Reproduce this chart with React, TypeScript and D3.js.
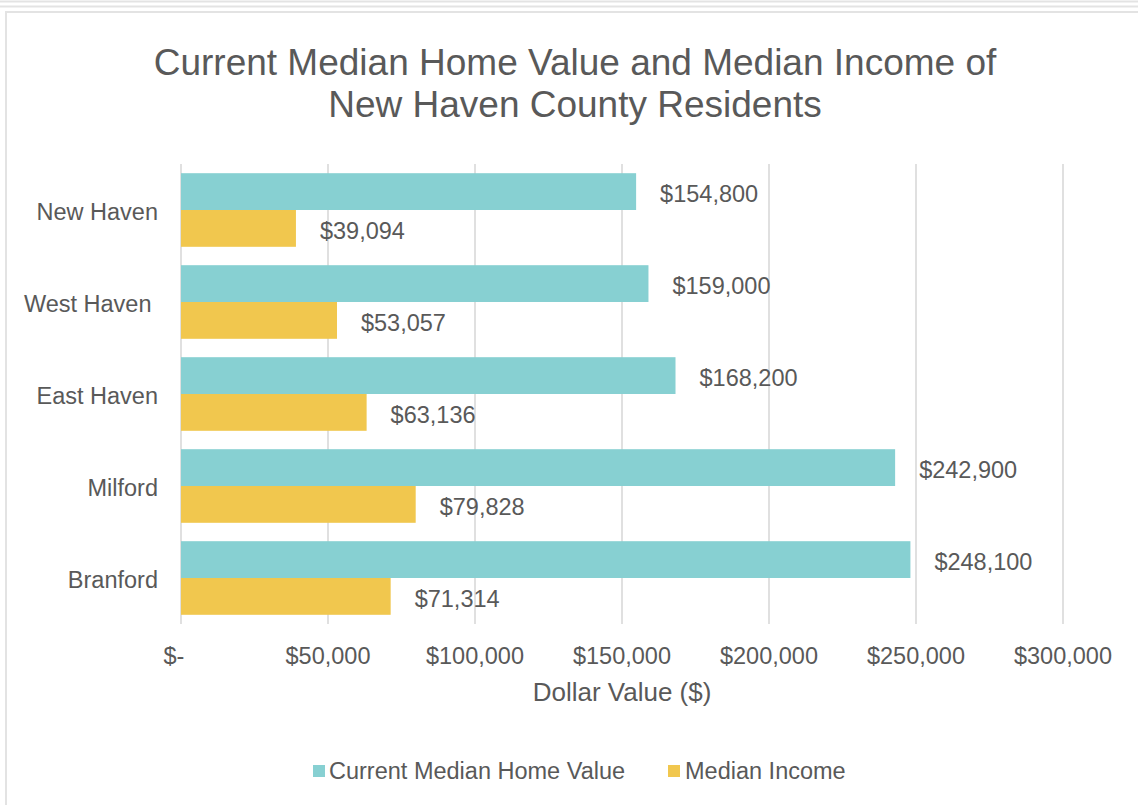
import React from "react";
import * as d3 from "d3";

const categories = ["New Haven", "West Haven ", "East Haven", "Milford", "Branford"];
const homeValues = [154800, 159000, 168200, 242900, 248100];
const incomes = [39094, 53057, 63136, 79828, 71314];
const xTicks = [0, 50000, 100000, 150000, 200000, 250000, 300000];
const seriesNames = ["Current Median Home Value", "Median Income"];
const seriesColors = ["#87D0D2", "#F1C74E"];

const W = 1138;
const H = 805;
const FONT = "'Liberation Sans', Arial, Helvetica, sans-serif";
const TEXT = "#595959";
const FS = 23.5;

export default function App() {
  const x = d3.scaleLinear().domain([0, 300000]).range([181, 1063]);
  const y = d3.scaleBand().domain(categories).range([164, 624]).paddingInner(0.2).paddingOuter(0.1);
  const sub = d3.scaleBand().domain(["0", "1"]).range([0, y.bandwidth()]);
  const fmt = d3.format("$,");
  const tickFmt = (v: number) => (v === 0 ? "$-" : fmt(v));
  const series = [homeValues, incomes];

  return (
    <svg width={W} height={H} style={{ position: "absolute", left: 0, top: 0, background: "#fff" }}>
      <rect x={0} y={0} width={W} height={H} fill="#fff" />
      <line x1={0} x2={W} y1={1.5} y2={1.5} stroke="#e3e3e3" strokeWidth={2} />
      <line x1={0} x2={W} y1={6.5} y2={6.5} stroke="#e3e3e3" strokeWidth={2} />
      <rect x={6} y={12} width={W} height={H} fill="none" stroke="#e3e3e3" strokeWidth={2} />

      <text x={575} y={75} textAnchor="middle" fontFamily={FONT} fontSize={37} fill={TEXT}>
        Current Median Home Value and Median Income of
      </text>
      <text x={575} y={117} textAnchor="middle" fontFamily={FONT} fontSize={37} fill={TEXT}>
        New Haven County Residents
      </text>

      {xTicks.map((t) => (
        <line key={t} x1={x(t)} x2={x(t)} y1={164} y2={624} stroke="#e0e0e0" strokeWidth={2} />
      ))}

      {categories.map((c, i) => (
        <g key={c}>
          {series.map((s, j) => {
            const by = (y(c) as number) + (sub(String(j)) as number);
            const bh = sub.bandwidth();
            return (
              <g key={j}>
                <rect x={x(0)} y={by} width={x(s[i]) - x(0)} height={bh} fill={seriesColors[j]} />
                <text x={x(s[i]) + 24} y={by + bh / 2 + 4} dominantBaseline="middle" fontFamily={FONT} fontSize={FS} fill={TEXT}>
                  {fmt(s[i])}
                </text>
              </g>
            );
          })}
          <text x={158} y={(y(c) as number) + y.bandwidth() / 2 + 4} textAnchor="end" dominantBaseline="middle" fontFamily={FONT} fontSize={FS} fill={TEXT} style={{ whiteSpace: "pre" }}>
            {c}
          </text>
        </g>
      ))}

      {xTicks.map((t) => (
        <text key={t} x={x(t) - (t === 0 ? 7 : 0)} y={658} textAnchor="middle" dominantBaseline="middle" fontFamily={FONT} fontSize={FS} fill={TEXT}>
          {tickFmt(t)}
        </text>
      ))}

      <text x={622} y={694} textAnchor="middle" dominantBaseline="middle" fontFamily={FONT} fontSize={26} fill={TEXT}>
        Dollar Value ($)
      </text>

      <rect x={313} y={765} width={12} height={12} fill={seriesColors[0]} />
      <text x={329} y={773} dominantBaseline="middle" fontFamily={FONT} fontSize={FS} fill={TEXT}>
        {seriesNames[0]}
      </text>
      <rect x={668} y={765} width={12} height={12} fill={seriesColors[1]} />
      <text x={685} y={773} dominantBaseline="middle" fontFamily={FONT} fontSize={FS} fill={TEXT}>
        {seriesNames[1]}
      </text>
    </svg>
  );
}
